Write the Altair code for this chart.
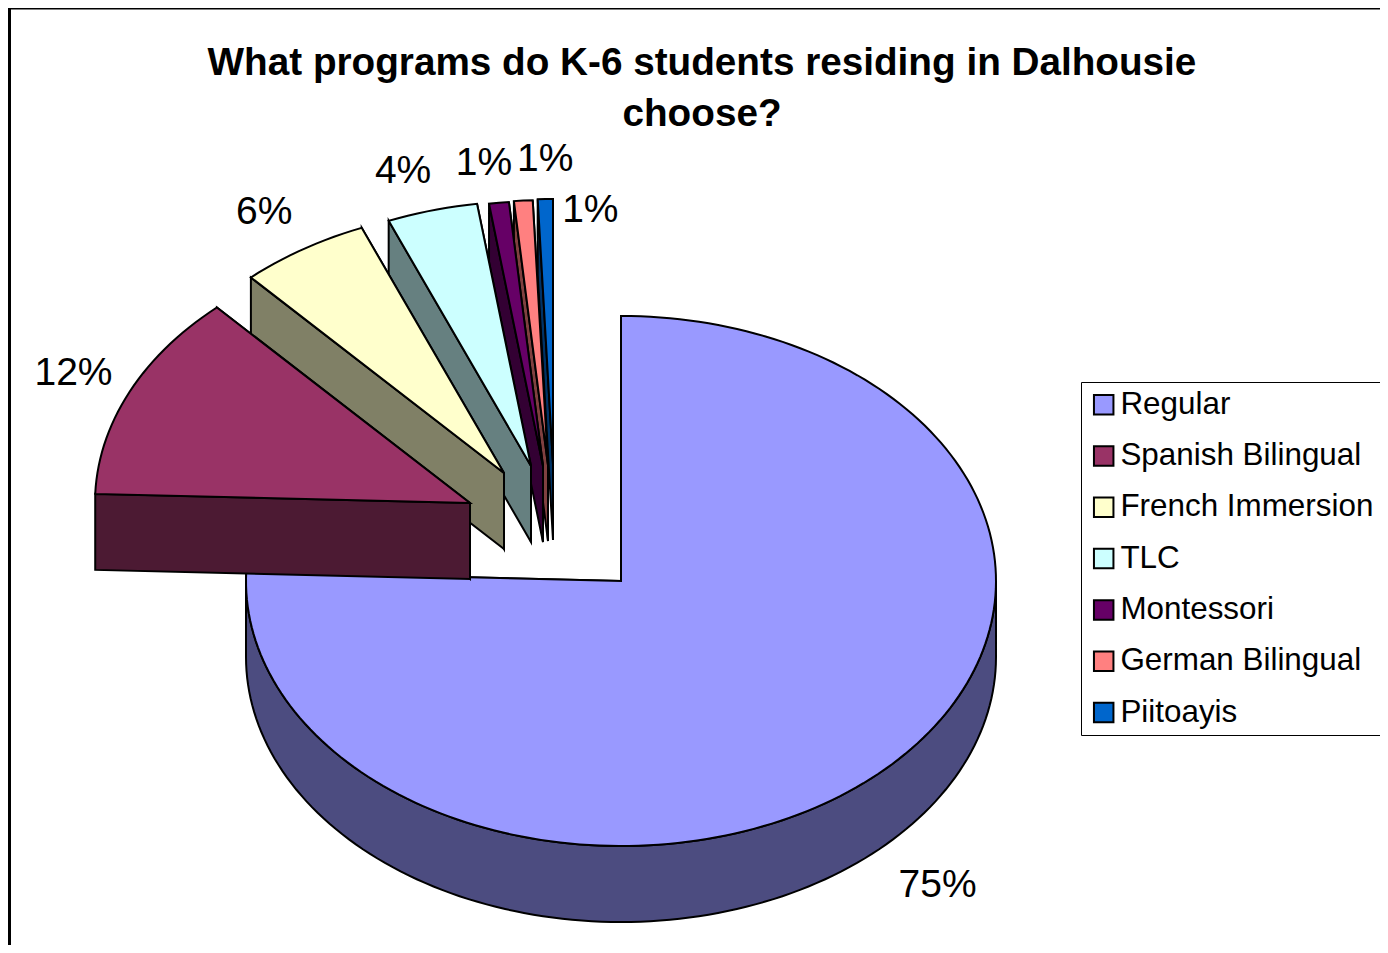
import math
import altair as alt

# ---- data ----
programs = ["Regular", "Spanish Bilingual", "French Immersion", "TLC",
            "Montessori", "German Bilingual", "Piitoayis"]
shares = [75.6, 12.67, 5.6, 3.9, 0.85, 0.8, 0.65]   # drawn share of the pie
pct_labels = ["75%", "12%", "6%", "4%", "1%", "1%", "1%"]
top_colors = ["#9999FF", "#993366", "#FFFFCC", "#CCFFFF", "#660066", "#FF8080", "#0066CC"]
side_colors = ["#4C4C80", "#4C1A33", "#808066", "#668080", "#330033", "#804040", "#003366"]

# ---- pie layout ----
CX, CY = 613, 573      # pie centre on the canvas
RX, RY = 375, 265      # ellipse radii
DEPTH = 76
explode_dx = [0, -151, -117, -90, -78, -73, -68]
explode_dy = [0, -78, -108, -115, -115, -116, -117]
label_dx = [56, -56, -39, -29, -15, 22, 45]      # label offset from the slice's outer mid-point
label_dy = [113, -19, -37, -39, -40, -42, 11]

W, H = 1372, 937


def pt(a, vx, vy, dz=0):
    r = math.radians(a)
    return [vx + RX * math.sin(r), vy - RY * math.cos(r) + dz]


def arc(a0, a1, vx, vy, dz=0):
    n = max(2, int(abs(a1 - a0) / 1.5))
    return [pt(a0 + (a1 - a0) * i / n, vx, vy, dz) for i in range(n + 1)]


def feature(key, ring):
    ring = ring + [ring[0]]
    return {"type": "Feature", "properties": {"key": key},
            "geometry": {"type": "Polygon", "coordinates": [ring]}}


features = []
label_rows = []
total = sum(shares)
start = 0.0
slices = []
for i, s in enumerate(shares):
    end = start + s / total * 360
    slices.append((i, start, end, CX + explode_dx[i], CY + explode_dy[i]))
    start = end

# Regular first, then the exploded slices from back to front
for i, a0, a1, vx, vy in [slices[0]] + slices[:0:-1]:
    side = programs[i] + " side"
    v = [vx, vy]
    vd = [vx, vy + DEPTH]
    p1, p1d = pt(a1, vx, vy), pt(a1, vx, vy, DEPTH)
    p0, p0d = pt(a0, vx, vy), pt(a0, vx, vy, DEPTH)
    features.append(feature(side, [v, p1, p1d, vd]))
    lo, hi = max(a0, 90), min(a1, 270)
    if hi > lo:
        features.append(feature(side, arc(lo, hi, vx, vy) + arc(hi, lo, vx, vy, DEPTH)))
    features.append(feature(side, [v, p0, p0d, vd]))
    features.append(feature(programs[i], [v] + arc(a0, a1, vx, vy)))

for i, a0, a1, vx, vy in slices:
    m = pt((a0 + a1) / 2, vx, vy)
    label_rows.append({"label": pct_labels[i], "lon": m[0] + label_dx[i], "lat": m[1] + label_dy[i]})

domain = programs + [p + " side" for p in programs]
colors = top_colors + side_colors

pie = alt.Chart(
    alt.InlineData(values={"type": "FeatureCollection", "features": features},
                   format=alt.DataFormat(property="features", type="json"))
).mark_geoshape(stroke="black", strokeWidth=2, strokeJoin="miter").encode(
    fill=alt.Fill(
        "properties.key:N",
        scale=alt.Scale(domain=domain, range=colors),
        legend=alt.Legend(
            values=programs, title=None, orient="none", legendX=1073, legendY=374,
            fillColor="white", strokeColor="black", padding=7,
            symbolType="square", symbolSize=380, symbolStrokeColor="black",
            symbolStrokeWidth=2, symbolOpacity=1,
            labelFont="Liberation Sans", labelFontSize=31.4, labelColor="black",
            labelLimit=320, labelOffset=1, rowPadding=18.3,
        ),
    )
).project(type="identity", scale=1, translate=[0, 0])

labels = alt.Chart(alt.Data(values=label_rows)).mark_text(
    font="Liberation Sans", fontSize=39, color="black", align="center", baseline="middle"
).encode(longitude="lon:Q", latitude="lat:Q", text="label:N").project(
    type="identity", scale=1, translate=[0, 0])

frame_left = alt.Chart(alt.Data(values=[{"a": 0}])).mark_rule(color="black", strokeWidth=3).encode(
    x=alt.value(1.5), y=alt.value(0), y2=alt.value(H))
frame_top = alt.Chart(alt.Data(values=[{"a": 0}])).mark_rule(color="black", strokeWidth=3).encode(
    y=alt.value(0), x=alt.value(0), x2=alt.value(W))

chart = alt.layer(pie, labels, frame_left, frame_top).properties(
    width=W, height=H, padding=0, autosize=alt.AutoSizeParams(type="none"),
    title=alt.TitleParams(
        text=["What programs do K-6 students residing in Dalhousie", "choose?"],
        font="Liberation Sans", fontSize=38.7, fontWeight="bold", color="black",
        anchor="start", align="center", frame="group", dx=694, dy=158, lineHeight=51,
        baseline="alphabetic", offset=0,
    ),
).configure_view(stroke=None)

chart.save("out.html", embed_options={"renderer": "svg", "actions": False})
